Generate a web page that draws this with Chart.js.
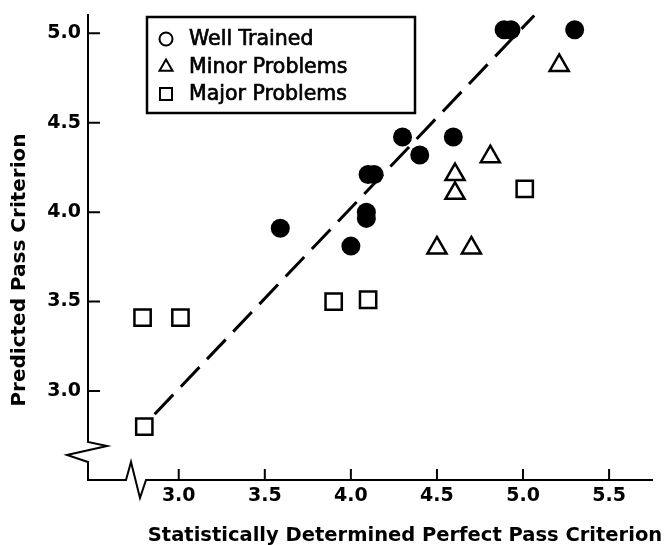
<!DOCTYPE html>
<html>
<head>
<meta charset="utf-8">
<title>Predicted vs Statistically Determined Pass Criterion</title>
<script src="https://cdn.jsdelivr.net/npm/chart.js@4.4.1/dist/chart.umd.min.js"></script>
<style>
  html, body { margin: 0; padding: 0; background: #fff; }
  #grafico { display: block; }
</style>
</head>
<body>
<canvas id="grafico" width="667" height="545"></canvas>
<script>
// Valores
const wellX = [4.89, 4.93, 5.30, 4.30, 4.40, 4.595, 4.10, 4.135, 4.09, 4.09, 3.59, 4.00];
const wellY = [5.02, 5.02, 5.02, 4.42, 4.32, 4.42, 4.21, 4.21, 4.00, 3.965, 3.91, 3.81];

const minorX = [5.21, 4.81, 4.605, 4.605, 4.50, 4.70];
const minorY = [4.82, 4.31, 4.21, 4.105, 3.80, 3.80];

const majorX = [2.79, 3.01, 3.90, 4.10, 5.01, 2.80];
const majorY = [3.41, 3.41, 3.50, 3.51, 4.13, 2.80];

// linha tracejada (y = x aproximadamente)
const fitX = [2.86, 5.065];
const fitY = [2.87, 5.10];

const xTicks = [3.0, 3.5, 4.0, 4.5, 5.0, 5.5];
const yTicks = [3.0, 3.5, 4.0, 4.5, 5.0];

const legendLabels = ['Well Trained', 'Minor Problems', 'Major Problems'];
const xTitle = 'Statistically Determined Perfect Pass Criterion';
const yTitle = 'Predicted Pass Criterion';

function pares(xs, ys) {
    return xs.map((x, i) => ({ x: x, y: ys[i] }));
}

Chart.defaults.font.family = '"DejaVu Sans", sans-serif';
Chart.defaults.color = '#000';

// Eixos com as quebras (zigue-zague), marcas internas e títulos
const eixos = {
    id: 'eixos',
    beforeDatasetsDraw(chart) {
        const ctx = chart.ctx;
        const a = chart.chartArea;
        const L = a.left, B = a.bottom, T = a.top, R = a.right;
        ctx.save();
        ctx.strokeStyle = '#000';
        ctx.lineWidth = 2;
        ctx.lineJoin = 'miter';
        ctx.beginPath();
        ctx.moveTo(L, T);
        ctx.lineTo(L, B - 38);
        ctx.lineTo(L + 19, B - 34);
        ctx.lineTo(L - 21, B - 25);
        ctx.lineTo(L, B - 18);
        ctx.lineTo(L, B);
        ctx.lineTo(L + 38, B);
        ctx.lineTo(L + 43, B - 18);
        ctx.lineTo(L + 52, B + 18);
        ctx.lineTo(L + 58, B);
        ctx.lineTo(R, B);
        ctx.stroke();

        // marcas dos ticks, para dentro
        const sx = chart.scales.x, sy = chart.scales.y;
        ctx.beginPath();
        xTicks.forEach(v => {
            const px = sx.getPixelForValue(v);
            ctx.moveTo(px, B);
            ctx.lineTo(px, B - 11);
        });
        yTicks.forEach(v => {
            const py = sy.getPixelForValue(v);
            ctx.moveTo(L, py);
            ctx.lineTo(L + 12, py);
        });
        ctx.stroke();

        // títulos dos eixos
        ctx.fillStyle = '#000';
        ctx.textAlign = 'center';
        ctx.textBaseline = 'middle';
        ctx.font = 'bold 19.5px "DejaVu Sans"';
        ctx.fillText(xTitle, 405, 536);
        ctx.translate(20, 270);
        ctx.rotate(-Math.PI / 2);
        ctx.font = 'bold 20px "DejaVu Sans"';
        ctx.fillText(yTitle, 0, 0);
        ctx.restore();
    }
};

// Legenda dentro da área do gráfico, com moldura
const legenda = {
    id: 'legenda',
    afterDraw(chart) {
        const ctx = chart.ctx;
        const simbolos = [
            { pointStyle: 'circle', radius: 6.5 },
            { pointStyle: 'triangle', radius: 7.5 },
            { pointStyle: 'rect', radius: 8.5 }
        ];
        const linhas = [39, 67, 94];
        ctx.save();
        ctx.strokeStyle = '#000';
        ctx.lineWidth = 2.5;
        ctx.strokeRect(147, 17, 268, 96);
        ctx.fillStyle = '#fff';
        ctx.lineWidth = 2;
        simbolos.forEach((s, i) => {
            Chart.helpers.drawPoint(ctx, { pointStyle: s.pointStyle, radius: s.radius, rotation: 0, borderWidth: 2 }, 166, linhas[i]);
        });
        ctx.fillStyle = '#000';
        ctx.textAlign = 'left';
        ctx.textBaseline = 'middle';
        ctx.font = '20.5px "DejaVu Sans"';
        ctx.lineWidth = 0.7;
        legendLabels.forEach((t, i) => {
            ctx.fillText(t, 189, linhas[i] + 1);
            ctx.strokeText(t, 189, linhas[i] + 1);
        });
        ctx.restore();
    }
};

const grafico = new Chart(document.getElementById('grafico'), {
    type: 'scatter',
    data: {
        datasets: [
            {
                label: legendLabels[0],
                data: pares(wellX, wellY),
                pointStyle: 'circle',
                pointRadius: 9.5,
                pointBackgroundColor: '#000',
                pointBorderColor: '#000',
                pointBorderWidth: 0
            },
            {
                label: legendLabels[1],
                data: pares(minorX, minorY),
                pointStyle: 'triangle',
                pointRadius: 11,
                pointBackgroundColor: '#fff',
                pointBorderColor: '#000',
                pointBorderWidth: 2.5
            },
            {
                label: legendLabels[2],
                data: pares(majorX, majorY),
                pointStyle: 'rect',
                pointRadius: 11.5,
                pointBackgroundColor: '#fff',
                pointBorderColor: '#000',
                pointBorderWidth: 2.5
            },
            {
                label: 'fit',
                data: pares(fitX, fitY),
                showLine: true,
                borderColor: '#000',
                borderWidth: 3,
                borderDash: [27, 11],
                pointRadius: 0,
                fill: false
            }
        ]
    },
    options: {
        responsive: false,
        animation: false,
        events: [],
        clip: false,
        layout: { padding: { top: 13, left: 0, right: 0, bottom: 0 } },
        plugins: {
            legend: { display: false },
            tooltip: { enabled: false }
        },
        scales: {
            x: {
                type: 'linear',
                min: 2.473,
                max: 5.755,
                grid: { display: false, drawTicks: false },
                border: { display: false },
                afterBuildTicks: s => { s.ticks = xTicks.map(v => ({ value: v })); },
                afterFit: s => {
                    s.height = 65;
                    s.paddingLeft = 0;
                    s.paddingRight = 0;
                },
                ticks: {
                    autoSkip: false,
                    maxRotation: 0,
                    padding: 5,
                    font: { size: 19, weight: 'bold' },
                    callback: v => v.toFixed(1)
                }
            },
            y: {
                type: 'linear',
                min: 2.502,
                max: 5.108,
                grid: { display: false, drawTicks: false },
                border: { display: false },
                afterBuildTicks: s => { s.ticks = yTicks.map(v => ({ value: v })); },
                afterFit: s => {
                    s.width = 88;
                    s.paddingTop = 0;
                    s.paddingBottom = 0;
                },
                ticks: {
                    autoSkip: false,
                    padding: 7,
                    font: { size: 19, weight: 'bold' },
                    callback: v => v.toFixed(1)
                }
            }
        }
    },
    plugins: [eixos, legenda]
});
</script>
</body>
</html>
